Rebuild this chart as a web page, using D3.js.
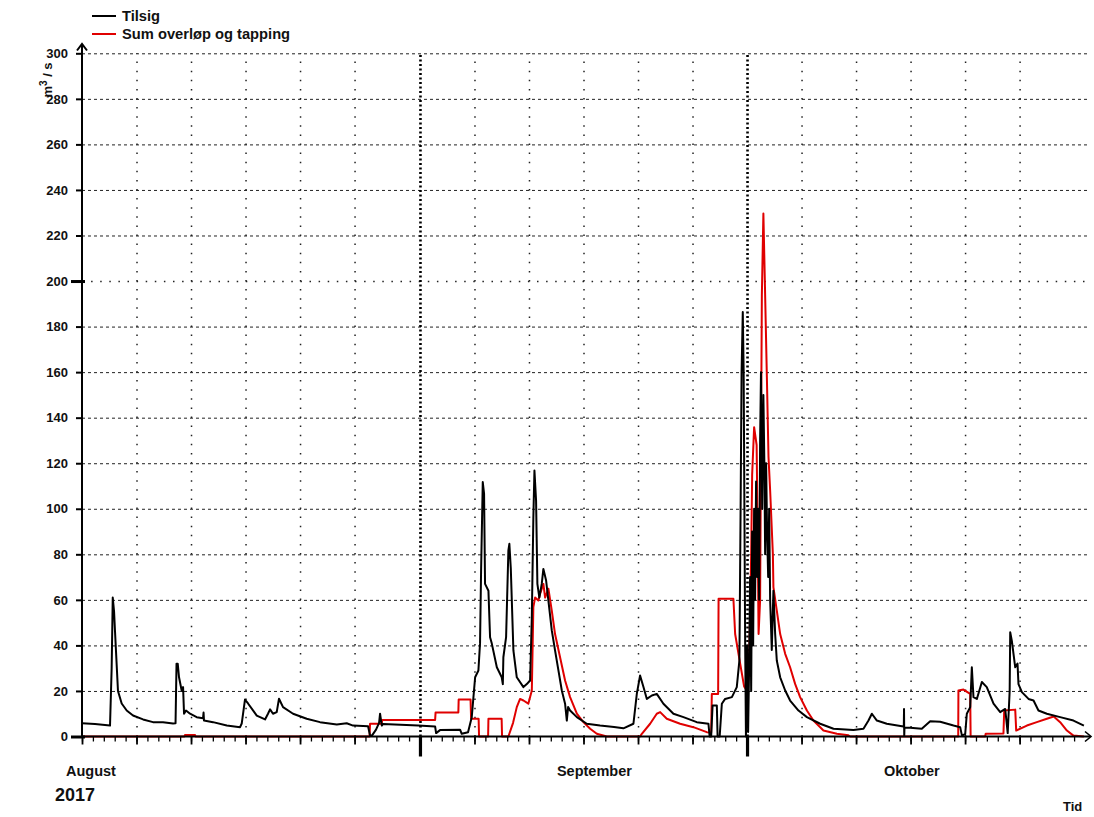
<!DOCTYPE html>
<html>
<head>
<meta charset="utf-8">
<script src="https://cdn.jsdelivr.net/npm/d3@7"></script>
<style>
  body { margin: 0; background: #fff; }
  svg { display: block; font-family: "Liberation Sans", Arial, sans-serif; font-weight: bold; }
</style>
</head>
<body>
<svg id="chart" width="1094" height="817"></svg>
<script>
// series: [days since 1 Aug 2017, m3/s]
const seriesNames = ["Tilsig", "Sum overløp og tapping"]
const seriesColors = ["#000", "#e00000"]

const tilsig = [
  [0.00,5.8],[1.19,5.5],[2.57,4.8],[2.72,30],[2.82,61],[2.94,55],[3.03,46],[3.30,20],[3.64,14.5],[4.10,11.4],
  [4.68,9.2],[5.60,7.5],[6.51,6.3],[7.43,6.3],[8.35,5.7],[8.58,5.8],[8.67,32],[8.78,32],[8.90,26],[9.15,20],
  [9.27,21.7],[9.36,10],[9.54,11.4],[9.91,10],[10.52,8.5],[11.10,8.0],[11.15,10.5],[11.19,7],[12.02,6.3],[13.28,4.8],
  [14.50,4.1],[14.65,5.7],[14.95,16.2],[15.23,14.5],[16.03,9.2],[16.79,7.5],[17.06,10],[17.25,11.9],[17.52,10],[17.86,10.7],
  [18.07,16.6],[18.44,12.9],[19.36,10],[20.61,7.8],[21.83,6.3],[23.37,5.3],[24.28,5.8],[24.86,4.8],[26.24,4.5],[26.42,0.4],
  [26.61,0.5],[26.97,3],[27.25,6],[27.34,10],[27.50,4.8],[27.61,5.5],[30.83,4.8],[32.39,4.4],[32.48,1.5],[32.84,2.8],
  [34.68,3.0],[34.83,1.2],[35.41,1.9],[35.75,8.5],[36.06,26],[36.36,29],[36.51,41],[36.61,74],[36.76,111.7],[36.88,106.7],
  [36.97,67],[37.28,64],[37.43,43.6],[37.59,40.8],[38.05,30.4],[38.50,26],[38.60,23],[38.65,34.8],[38.90,43.6],[39.11,81.7],
  [39.20,84.6],[39.33,74],[39.57,37.8],[39.88,26],[40.49,21.7],[40.80,23],[41.10,24.6],[41.26,52.4],[41.40,96],[41.50,116.8],
  [41.65,103.6],[41.77,67],[41.95,61],[42.17,67],[42.32,73.6],[42.57,68.5],[42.78,59.7],[43.09,46.6],[43.39,37.8],[43.70,29],
  [44.01,20.2],[44.31,14.4],[44.47,7],[44.59,13],[44.77,11.4],[45.39,8.5],[46.30,5.6],[47.52,4.8],[48.80,4.2],[49.66,3.6],
  [50.58,5.6],[50.89,18.7],[51.19,26.8],[51.50,21.7],[51.81,16.5],[52.27,18],[52.72,18.7],[53.33,14.4],[54.25,10],[55.17,8.5],
  [56.39,6.3],[57.46,5.6],[57.57,0],[57.71,0],[57.84,13.6],[58.23,13.6],[58.30,0],[58.49,0],[58.69,14.4],[58.99,16.5],
  [59.61,17.3],[60.06,21.7],[60.30,33.4],[60.41,100],[60.50,160],[60.61,186.4],[60.69,160],[60.76,100],[60.83,40],[60.90,0],
  [61.01,40],[61.10,2],[61.19,30],[61.28,70],[61.38,20],[61.47,90],[61.56,40],[61.65,100],[61.74,60],[61.83,112],
  [61.93,70],[62.02,100],[62.11,60],[62.20,130],[62.28,160],[62.39,100],[62.50,150],[62.59,120],[62.66,80],[62.75,120],
  [62.84,90],[62.94,70],[63.03,100],[63.12,60],[63.27,38],[63.42,64],[63.58,45],[63.73,33.4],[64.04,26],[64.50,20.2],
  [64.95,15.8],[65.72,11.4],[66.49,8.5],[67.71,5.6],[68.93,3.4],[70.76,2.9],[71.68,3.4],[72.14,7],[72.45,10],[72.91,7],
  [73.82,5.6],[75.35,4.4],[75.38,4.4],[75.40,12.1],[75.42,0.2],[75.44,3.9],[75.96,3.8],[77.03,3.4],[77.80,6.7],[78.72,6.5],
  [79.94,4.8],[80.55,4.1],[80.71,0.5],[81.01,1],[81.16,10],[81.47,12.9],[81.62,30.4],[81.77,17.3],[82.08,16.5],[82.54,23.9],
  [82.99,21.7],[83.61,14.4],[84.22,10.7],[84.68,12.1],[84.91,1.5],[85.09,20],[85.14,45.8],[85.29,42],[85.60,30.4],[85.81,32],
  [85.90,23],[86.21,19.5],[86.82,16.5],[87.28,15.8],[87.73,11.4],[88.50,10],[89.72,8.5],[90.94,7],[91.90,4.8]
]

const overlop = [
  [0,0],[9.40,0],[9.45,0.7],[10.37,0.7],[10.41,0],[26.38,0],[26.42,5.6],[27.50,5.6],[27.52,7.3],[32.39,7.3],
  [32.43,10.5],[34.52,10.5],[34.55,16.2],[35.64,16.2],[35.69,7.8],[36.38,7.8],[36.42,0],[37.25,0],[37.28,7.8],[38.49,7.8],
  [38.53,0],[39.11,0],[39.54,6],[39.88,12.9],[40.18,16.5],[40.49,15.8],[40.94,14.4],[41.26,20.2],[41.40,56.8],[41.56,61],
  [41.86,59.7],[42.02,62.7],[42.32,67],[42.48,61],[42.78,64.9],[43.09,55.3],[43.39,45],[43.85,34.8],[44.31,24.6],[44.77,17.3],
  [45.39,10],[45.99,6.3],[46.61,3.4],[47.22,1.2],[48.14,0],[51.19,0],[51.35,1.2],[52.11,5.6],[52.72,10],[53.03,10.7],
  [53.64,7.8],[54.86,5.6],[56.08,4.1],[57.31,1.9],[57.71,1.8],[57.77,18.7],[58.35,18.7],[58.39,60.5],[59.75,60.5],[59.91,45],
  [60.37,32],[60.73,22],[61.01,20],[61.19,30],[61.38,80],[61.47,115],[61.65,135.8],[61.88,128],[61.97,90],[62.06,45],
  [62.20,60],[62.36,194],[62.50,229.6],[62.66,194],[62.82,157.8],[62.97,122.7],[63.12,108],[63.37,80],[63.42,65.6],[63.73,55.3],
  [64.04,45],[64.50,36.3],[64.95,30.4],[65.41,23.1],[65.87,17.3],[66.49,11.4],[67.09,7],[68.01,2.6],[69.24,1.2],[70.30,0.5],
  [70.46,0],[80.37,0],[80.39,20.2],[80.85,20.6],[81.47,18.7],[81.51,0],[82.84,0],[82.89,1.2],[84.52,1.3],[84.59,11.4],
  [85.60,11.8],[85.69,2.6],[86.67,4.8],[87.58,6.3],[88.50,7.8],[89.13,8.8],[89.72,6.3],[90.34,2.6],[90.94,0.4],[91.90,0]
]

const yTicks = [0,20,40,60,80,100,120,140,160,180,200,220,240,260,280,300]
const monthNames = ["August", "September", "Oktober"]
const yearLabel = "2017"
const xTitle = "Tid"

// layout
const plotLeft = 82, plotRight = 1085, plotTop = 53.3, plotBottom = 736.5
const t0 = Date.UTC(2017, 7, 1), t1 = Date.UTC(2017, 10, 1)
const toDate = d => new Date(t0 + d * 864e5)

const svg = d3.select("#chart")

const x = d3.scaleUtc().domain([new Date(t0), new Date(t1)]).range([plotLeft, plotRight])
const y = d3.scaleLinear().domain([0, 300]).range([plotBottom, plotTop])

const days = d3.utcDay.range(new Date(t0), new Date(t1))
const fiveDays = days.filter(d => [6, 11, 16, 21, 26].includes(d.getUTCDate()))
const months = d3.utcMonth.range(new Date(t0), new Date(t1))

// horizontal grid
const hgrid = svg.append("g")
  .attr("transform", `translate(${plotLeft},0)`)
  .call(d3.axisLeft(y).tickValues(yTicks.filter(v => v > 0)).tickSize(-(1090 - plotLeft)).tickFormat(""))
hgrid.select(".domain").remove()
hgrid.selectAll(".tick line")
  .attr("stroke", "#222")
  .attr("stroke-width", d => d === 200 ? 1.5 : 1)
  .attr("stroke-dasharray", d => d === 200 ? "1.5,7.6" : "3,3")

// vertical dotted grid every 5 days
const vgrid = svg.append("g")
  .attr("transform", `translate(0,${plotBottom})`)
  .call(d3.axisBottom(x).tickValues(fiveDays).tickSize(-(plotBottom - plotTop)).tickFormat(""))
vgrid.select(".domain").remove()
vgrid.selectAll(".tick line")
  .attr("stroke", "#222").attr("stroke-width", 1.5).attr("stroke-dasharray", "1.5,7.6")

// month separators
const mgrid = svg.append("g")
  .attr("transform", `translate(0,${plotBottom})`)
  .call(d3.axisBottom(x).tickValues(months.slice(1)).tickSize(-(plotBottom - plotTop)).tickFormat(""))
mgrid.select(".domain").remove()
mgrid.selectAll(".tick line")
  .attr("stroke", "#000").attr("stroke-width", 2.6).attr("stroke-dasharray", "2,2.5")

// series
const line = d3.line().x(d => x(toDate(d[0]))).y(d => y(d[1]))
const series = [overlop, tilsig]
const colorsDraw = [seriesColors[1], seriesColors[0]]
series.forEach((s, i) => {
  svg.append("path")
    .datum(s)
    .attr("d", line)
    .attr("fill", "none")
    .attr("stroke", colorsDraw[i])
    .attr("stroke-width", 2)
    .attr("stroke-linejoin", "round")
})

// x axis ticks
const tickAxis = (vals, size, w) => {
  const g = svg.append("g")
    .attr("transform", `translate(0,${plotBottom})`)
    .call(d3.axisBottom(x).tickValues(vals).tickSize(size).tickFormat(""))
  g.select(".domain").remove()
  g.selectAll(".tick line").attr("stroke", "#000").attr("stroke-width", w)
}
tickAxis(days, 5, 1.3)
tickAxis(fiveDays.concat([months[0]]), 8, 1.8)
tickAxis(months.slice(1), 20, 3.2)

// axis lines with arrows
svg.append("line").attr("x1", plotLeft).attr("x2", 1090).attr("y1", plotBottom).attr("y2", plotBottom)
  .attr("stroke", "#000").attr("stroke-width", 2)
svg.append("path").attr("d", `M1085,731.5 L1091,${plotBottom} L1085,741.5`)
  .attr("fill", "none").attr("stroke", "#000").attr("stroke-width", 1.6)
svg.append("line").attr("x1", plotLeft).attr("x2", plotLeft).attr("y1", plotBottom).attr("y2", 44)
  .attr("stroke", "#000").attr("stroke-width", 2)
svg.append("path").attr("d", `M77,50.5 L${plotLeft},44 L87,50.5`)
  .attr("fill", "none").attr("stroke", "#000").attr("stroke-width", 2)

// y axis ticks + labels
const yAx = svg.append("g")
  .attr("transform", `translate(${plotLeft},0)`)
  .call(d3.axisLeft(y).tickValues(yTicks).tickSize(6).tickPadding(8))
yAx.select(".domain").remove()
yAx.selectAll(".tick line").attr("stroke", "#000").attr("stroke-width", 2)
yAx.selectAll(".tick text")
  .attr("fill", "#111")
  .style("font-size", "13px")
  .style("font-weight", "bold")
  .style("font-family", "'Liberation Sans', Arial, sans-serif")

const yMajor = svg.append("g")
  .attr("transform", `translate(${plotLeft + 3},0)`)
  .call(d3.axisLeft(y).tickValues([0, 200]).tickSize(14).tickFormat(""))
yMajor.select(".domain").remove()
yMajor.selectAll(".tick line").attr("stroke", "#000").attr("stroke-width", 3)

// y title
const yt = svg.append("text")
  .attr("transform", "translate(52,80) rotate(-90)")
  .attr("text-anchor", "middle")
  .style("font-size", "13px")
  .attr("fill", "#111")
yt.append("tspan").text("m")
yt.append("tspan").text("3").attr("dy", -5).style("font-size", "10px")
yt.append("tspan").text(" / s").attr("dy", 5)

// month labels
monthNames.forEach((m, i) => {
  svg.append("text")
    .attr("x", x(months[i]) + (i === 0 ? -16 : 137))
    .attr("y", 776)
    .style("font-size", "14.5px")
    .attr("fill", "#111")
    .text(m)
})
svg.append("text").attr("x", 55).attr("y", 801)
  .style("font-size", "18px").attr("fill", "#111").text(yearLabel)
svg.append("text").attr("x", 1063).attr("y", 811)
  .style("font-size", "13px").attr("fill", "#111").text(xTitle)

// legend
seriesNames.forEach((n, i) => {
  const ly = 16 + i * 18
  svg.append("line").attr("x1", 92).attr("x2", 116).attr("y1", ly).attr("y2", ly)
    .attr("stroke", seriesColors[i]).attr("stroke-width", 2)
  svg.append("text").attr("x", 122).attr("y", ly + 5)
    .style("font-size", "14.7px").attr("fill", "#111").text(n)
})
</script>
</body>
</html>
